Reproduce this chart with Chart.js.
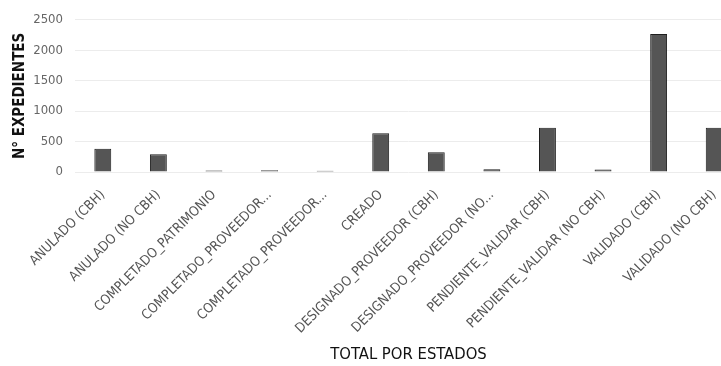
<!DOCTYPE html>
<html>
<head>
<meta charset="utf-8">
<script src="https://cdn.jsdelivr.net/npm/chart.js@4"></script>
<style>
html,body{margin:0;padding:0;background:#fff;overflow:hidden;width:721px;height:366px;}
#wrap{position:relative;width:742px;height:366px;}
</style>
</head>
<body>
<div id="wrap"><canvas id="c"></canvas></div>
<script>
const categories = [
  "ANULADO (CBH)",
  "ANULADO (NO CBH)",
  "COMPLETADO_PATRIMONIO",
  "COMPLETADO_PROVEEDOR...",
  "COMPLETADO_PROVEEDOR...",
  "CREADO",
  "DESIGNADO_PROVEEDOR (CBH)",
  "DESIGNADO_PROVEEDOR (NO...",
  "PENDIENTE_VALIDAR (CBH)",
  "PENDIENTE_VALIDAR (NO CBH)",
  "VALIDADO (CBH)",
  "VALIDADO (NO CBH)"
];
const expedientes = [382, 290, 25, 30, 20, 636, 326, 45, 728, 40, 2266, 728];
const yTicks = [0, 500, 1000, 1500, 2000, 2500];

const FONT = '"DejaVu Sans Condensed", "DejaVu Sans", sans-serif';

new Chart(document.getElementById('c'), {
  type: 'bar',
  data: {
    labels: categories,
    datasets: [{
      label: 'N° EXPEDIENTES',
      data: expedientes,
      backgroundColor: '#555555',
      borderColor: '#1e1e1e',
      borderWidth: 1,
      barPercentage: 0.38,
      categoryPercentage: 0.8
    }]
  },
  options: {
    responsive: true,
    maintainAspectRatio: false,
    animation: false,
    layout: { padding: { top: 5, left: 11, right: 0, bottom: 1.6 } },
    plugins: { legend: { display: false }, tooltip: { enabled: false } },
    scales: {
      x: {
        grid: { display: false },
        border: { display: false },
        afterFit: (s) => { s.paddingLeft = 0; s.paddingRight = 0; s.height = 192.4; },
        ticks: {
          color: '#555',
          font: { family: FONT, size: 13.5 },
          padding: 7,
          minRotation: 45,
          maxRotation: 45,
          autoSkip: false
        },
        title: {
          display: true,
          text: 'TOTAL POR ESTADOS',
          color: '#111',
          font: { family: FONT, size: 16.5 },
          padding: { top: 20, bottom: 0 }
        }
      },
      y: {
        min: 0,
        max: 2500,
        afterBuildTicks: (axis) => { axis.ticks = yTicks.map(v => ({ value: v })); },
        afterFit: (s) => { s.width = 64; },
        grid: { color: '#ececec', drawTicks: false },
        border: { display: false },
        ticks: {
          color: '#666',
          font: { family: FONT, size: 13 },
          padding: 12,
          callback: (v) => String(v)
        },
        title: {
          display: true,
          text: 'N° EXPEDIENTES',
          color: '#111',
          font: { family: FONT, size: 15, weight: 'bold' },
          padding: { top: 0, bottom: 4 }
        }
      }
    }
  }
});
</script>
</body>
</html>
